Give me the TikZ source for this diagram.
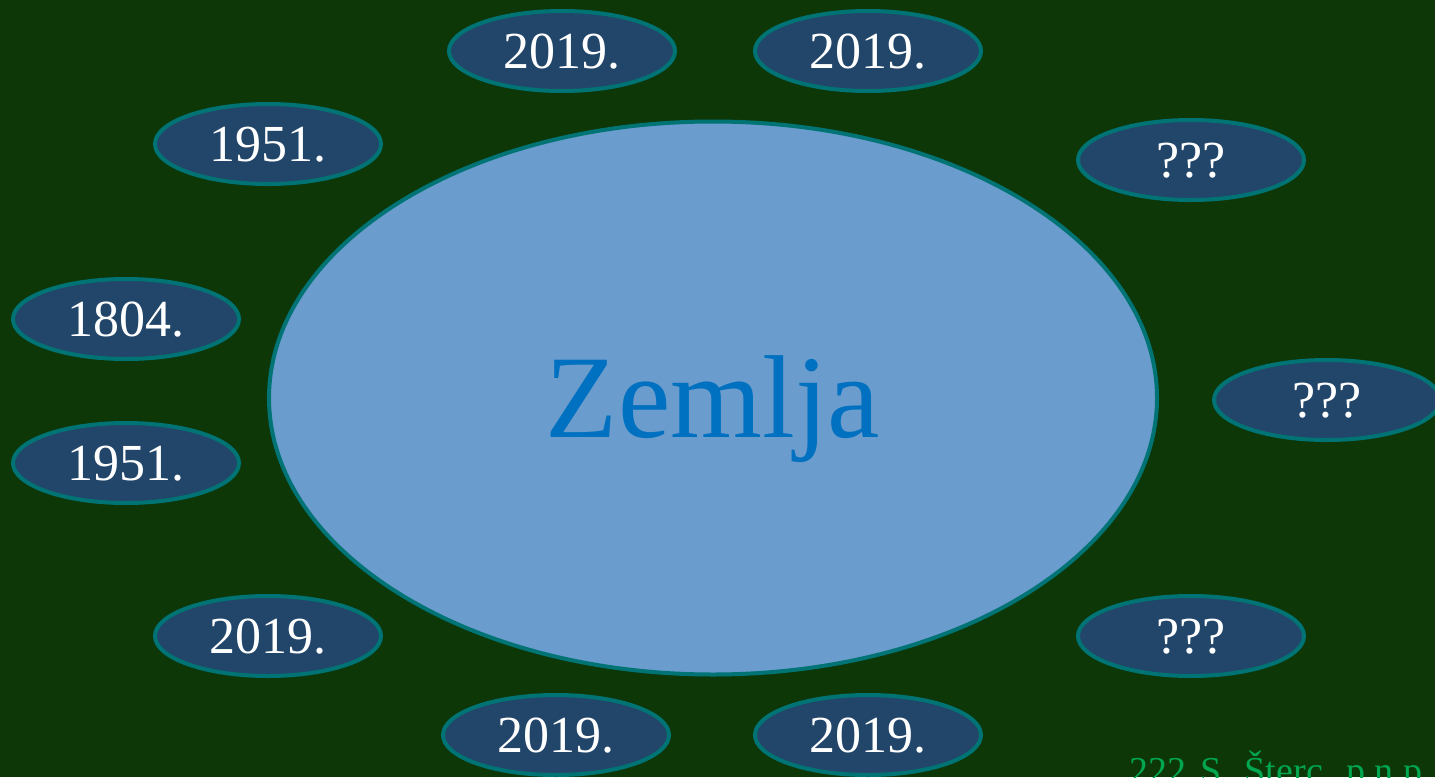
\documentclass[tikz,border=0pt]{standalone}
\usepackage{fontspec}
\setmainfont{Liberation Serif}
\usetikzlibrary{shapes.geometric}
\definecolor{bg}{HTML}{0E3708}
\definecolor{rim}{HTML}{007474}
\definecolor{earth}{HTML}{6A9CCD}
\definecolor{earthtext}{HTML}{0070C0}
\definecolor{chip}{HTML}{22466A}
\definecolor{note}{HTML}{00A650}
\tikzset{
  yearbox/.style={ellipse, draw=rim, line width=4pt, fill=chip, inner sep=0pt,
    minimum width=226pt, minimum height=80pt, text=white,
    font=\fontsize{52}{60}\selectfont, text height=34pt, text depth=0pt},
  earthbox/.style={ellipse, draw=rim, line width=4pt, fill=earth, inner sep=0pt,
    minimum width=888pt, minimum height=553pt, text=earthtext,
    font=\fontsize{118}{130}\selectfont, text height=78pt, text depth=0pt},
  notebox/.style={anchor=base west, inner sep=0pt, text=note,
    font=\fontsize{38}{44}\selectfont}
}
\begin{document}
\begin{tikzpicture}[x=1pt,y=1pt]
\useasboundingbox (0,0) rectangle (1435,-777);
\clip (0,0) rectangle (1435,-777);
\fill[bg] (0,0) rectangle (1435,-777);
\node[earthbox] (earth) at (713,-398) {Zemlja};
\node[yearbox] (t1) at (562,-51) {2019.};
\node[yearbox] (t2) at (868,-51) {2019.};
\node[yearbox] (a1) at (268,-144) {1951.};
\node[yearbox] (q1) at (1191,-160) {???};
\node[yearbox] (l1) at (126,-319) {1804.};
\node[yearbox] (l2) at (126,-463) {1951.};
\node[yearbox] (q2) at (1327,-400) {???};
\node[yearbox] (b1) at (268,-636) {2019.};
\node[yearbox] (q3) at (1191,-636) {???};
\node[yearbox] (b2) at (556,-735) {2019.};
\node[yearbox] (b3) at (868,-735) {2019.};
\node[notebox] (src) at (1129,-783) {\spaceskip=14pt plus 2pt 222 S. Šterc, p.n.p.};
\end{tikzpicture}
\end{document}
